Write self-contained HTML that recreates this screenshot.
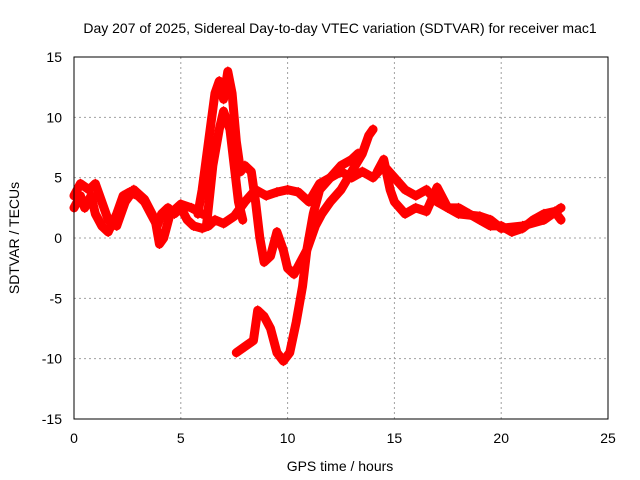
<!DOCTYPE html>
<html><head><meta charset="utf-8"><style>
body{margin:0;background:#fff}
svg{display:block;font-family:"Liberation Sans",sans-serif}
</style></head><body>
<svg id="chart" width="640" height="480">
<text x="340" y="33" font-size="14" text-anchor="middle">Day 207 of 2025, Sidereal Day-to-day VTEC variation (SDTVAR) for receiver mac1</text>
<text x="340" y="471" font-size="14" text-anchor="middle">GPS time / hours</text>
<text transform="translate(19,238) rotate(-90)" font-size="14" text-anchor="middle">SDTVAR / TECUs</text>
<g id="grid"></g><g id="series"></g><g id="axes"></g>
</svg>
<script>
const xTicks=[0,5,10,15,20,25];
const yTicks=[-15,-10,-5,0,5,10,15];
const trackA=[[0,2.5],[0.3,3.5],[0.5,2.5],[0.8,3.5],[1,2],[1.3,1],[1.6,0.5],[2,2],[2.3,3.5],[2.6,3.8],[3,3.5],[3.3,3],[3.6,2],[3.9,1],[4.1,2],[4.4,2.5],[4.7,2],[5,2.5],[5.3,1.5],[5.6,1],[6,0.8],[6.3,1],[6.6,1.5],[7,1.2],[7.5,1.8],[8,3],[8.5,4],[9,3.5],[9.5,3.8],[10,4],[10.5,3.8],[11,3],[11.5,4.5],[12,5],[12.5,5.5],[13,5],[13.5,5.5],[14,5],[14.5,6],[15,5],[15.5,4],[16,3.5],[16.5,4],[17,3],[17.5,2.5],[18,2.5],[18.5,2],[19,1.5],[19.5,1],[20,1],[20.5,0.5],[21,0.8],[21.5,1.5],[22,2],[22.5,2.2],[22.8,1.5]];
const trackB=[[0,3.5],[0.3,4.5],[0.7,4],[1,4.5],[1.3,3],[1.6,1.5],[2,1],[2.4,3],[2.8,4],[3.3,3.2],[3.8,1.5],[4,-0.5],[4.2,0],[4.5,2],[5,2.8],[5.5,2.5],[6,2]];
const trackC=[[5.8,2],[6,4],[6.3,8],[6.6,12],[6.8,13],[7,11.5],[7.2,13.8],[7.4,12],[7.6,8],[7.8,5.5],[8,6],[8.3,5.5],[8.5,3],[8.7,0],[8.9,-2],[9.2,-1.5],[9.5,0.5],[9.8,-1],[10,-2.5],[10.3,-3],[10.6,-2],[10.9,-1],[11.2,2],[11.5,4],[12,5],[12.5,6],[13,6.5],[13.3,7]];
const trackD=[[6.2,1],[6.5,6],[6.8,9],[7,10.5],[7.3,9],[7.5,6],[7.7,3],[7.9,1.5]];
const trackE=[[7.6,-9.5],[8,-9],[8.4,-8.5],[8.6,-6],[8.9,-6.5],[9.2,-7.5],[9.5,-9.5],[9.8,-10.2],[10.1,-9.5],[10.4,-7],[10.7,-4],[10.9,-1],[11.1,0],[11.3,1],[11.6,2],[12,3],[12.5,4],[13,5.5],[13.5,7],[13.8,8.5],[14,9]];
const trackF=[[14.2,5.5],[14.5,6.5],[14.8,4],[15,3],[15.5,2],[16,2.5],[16.5,2.2],[17,4.2],[17.5,2.5],[18,2],[19,1.8],[19.5,1.5],[20,0.8],[21,1],[22,1.5],[22.8,2.5]];
const series=[trackA,trackB,trackC,trackD,trackE,trackF];
const X0=74,X1=608,Y0=419,Y1=57;
const xs=v=>X0+(v/25)*(X1-X0);
const ys=v=>Y0-((v+15)/30)*(Y0-Y1);
const NS="http://www.w3.org/2000/svg";
function mk(t,a,p){const e=document.createElementNS(NS,t);for(const k in a)e.setAttribute(k,a[k]);p.appendChild(e);return e;}
const grid=document.getElementById('grid'),axes=document.getElementById('axes'),sg=document.getElementById('series');
xTicks.forEach(t=>{const x=xs(t);
 if(t>0&&t<25){const l=mk('line',{x1:x,x2:x,y1:Y0,y2:Y1,stroke:'#a0a0a0','stroke-dasharray':'2,3'},grid);
 
 }
 const tx=mk('text',{x:x,y:Y0+24,'font-size':14,'text-anchor':'middle'},axes);tx.textContent=t;
 
 
});
yTicks.forEach(t=>{const y=ys(t);
 if(t>-15&&t<15){const l=mk('line',{x1:X0,x2:X1,y1:y,y2:y,stroke:'#a0a0a0','stroke-dasharray':'2,3'},grid);
 
 }
 const tx=mk('text',{x:X0-12,y:y+5,'font-size':14,'text-anchor':'end'},axes);tx.textContent=t;
 
 
});
const fr=mk('rect',{x:X0,y:Y1,width:X1-X0,height:Y0-Y1,fill:'none',stroke:'#000'},axes);


series.forEach(s=>{
 const pl=mk('polyline',{points:s.map(p=>xs(p[0])+','+ys(p[1])).join(' '),fill:'none',stroke:'#f00','stroke-width':9,'stroke-linejoin':'round','stroke-linecap':'round'},sg);
 
 
 s.forEach(p=>{const x=xs(p[0]),y=ys(p[1]);
  const m=mk('path',{d:`M${x-4},${y}h8M${x},${y-5}v10`,stroke:'#f00','stroke-width':1.2},sg);
  
  
 });
});
</script>
</body></html>
